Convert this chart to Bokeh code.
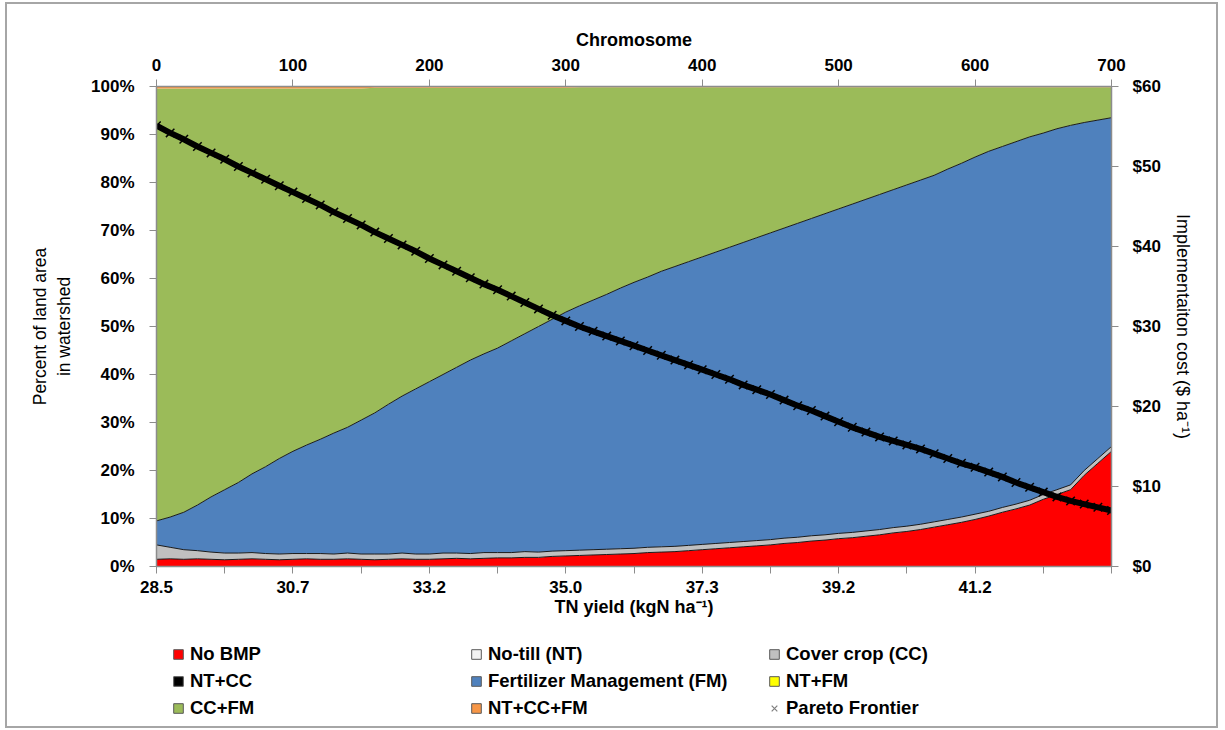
import numpy as np
from bokeh.plotting import figure
from bokeh.layouts import column
from bokeh.models import (LinearAxis, Range1d, FixedTicker, PrintfTickFormatter,
                          Legend, LegendItem, ColumnDataSource)
from bokeh.embed import file_html
from bokeh.resources import INLINE

# ---------------- data (every 10th chromosome) ----------------
chromosome = list(range(0, 701, 10))
tn_tick_chromosome = [0, 100, 200, 300, 400, 500, 600]
tn_tick_labels = ["28.5", "30.7", "33.2", "35.0", "37.3", "39.2", "41.2"]

# percent of land area in watershed
no_bmp = [1.5, 1.6, 1.5, 1.6, 1.5, 1.4, 1.5, 1.6, 1.5, 1.4,
          1.5, 1.6, 1.5, 1.5, 1.6, 1.5, 1.4, 1.5, 1.6, 1.5,
          1.5, 1.6, 1.7, 1.6, 1.7, 1.8, 1.8, 1.9, 1.9, 2.1,
          2.2, 2.3, 2.4, 2.5, 2.6, 2.7, 2.9, 3.0, 3.1, 3.3,
          3.5, 3.7, 3.9, 4.1, 4.3, 4.5, 4.8, 5.0, 5.3, 5.5,
          5.8, 6.0, 6.3, 6.6, 7.0, 7.3, 7.7, 8.2, 8.7, 9.2,
          9.8, 10.5, 11.3, 12.0, 12.8, 14.0, 15.0, 16.0, 19.0, 21.5,
          24.0]
no_till = [0.0] * 71
cover_crop = [3.0, 2.4, 2.0, 1.7, 1.5, 1.4, 1.3, 1.3, 1.2, 1.2,
              1.2, 1.1, 1.2, 1.1, 1.2, 1.1, 1.2, 1.1, 1.2, 1.1,
              1.1, 1.2, 1.1, 1.1, 1.2, 1.1, 1.1, 1.2, 1.1, 1.1,
              1.1, 1.1, 1.1, 1.1, 1.1, 1.1, 1.1, 1.1, 1.1, 1.1,
              1.1, 1.1, 1.1, 1.1, 1.1, 1.1, 1.1, 1.1, 1.1, 1.1,
              1.1, 1.1, 1.1, 1.1, 1.1, 1.1, 1.1, 1.1, 1.1, 1.1,
              1.1, 1.0, 1.0, 1.0, 1.0, 1.0, 1.0, 1.0, 1.0, 1.0,
              1.0]
nt_cc = [0.0] * 71
fert_mgmt = [5.0, 6.3, 7.8, 9.5, 11.5, 13.2, 14.7, 16.4, 18.1, 19.9,
             21.3, 22.6, 23.8, 25.2, 26.2, 27.9, 29.4, 31.2, 32.7, 34.4,
             35.9, 37.2, 38.7, 40.3, 41.4, 42.6, 44.1, 45.4, 47.0, 48.3,
             49.7, 50.9, 52.0, 53.1, 54.3, 55.4, 56.3, 57.4, 58.3, 59.1,
             59.9, 60.7, 61.5, 62.3, 63.1, 63.9, 64.6, 65.4, 66.1, 66.9,
             67.6, 68.4, 69.1, 69.8, 70.4, 71.1, 71.7, 72.2, 73.0, 73.7,
             74.4, 75.0, 75.2, 75.5, 75.7, 75.3, 75.2, 74.9, 72.5, 70.5,
             68.5]
nt_fm = [0.0] * 71
nt_cc_fm = [0.4] * 16 + [0.25] * 15 + [0.15] * 40
# CC+FM is the remainder of the watershed
cc_fm = [round(100 - a - b - c - d - e - f - g, 2) for a, b, c, d, e, f, g in
         zip(no_bmp, no_till, cover_crop, nt_cc, fert_mgmt, nt_fm, nt_cc_fm)]

# implementation cost ($/ha) of the Pareto frontier
pareto_cost = [55.1, 54.2, 53.4, 52.5, 51.7, 50.9, 50.0, 49.2, 48.4, 47.6,
               46.8, 46.0, 45.2, 44.3, 43.5, 42.7, 41.8, 41.0, 40.2, 39.4,
               38.5, 37.7, 36.9, 36.1, 35.3, 34.6, 33.8, 33.0, 32.2, 31.4,
               30.7, 30.0, 29.4, 28.8, 28.2, 27.6, 27.0, 26.4, 25.8, 25.2,
               24.6, 24.0, 23.4, 22.7, 22.1, 21.5, 20.8, 20.1, 19.5, 18.8,
               18.1, 17.4, 16.8, 16.2, 15.7, 15.2, 14.7, 14.1, 13.5, 12.9,
               12.4, 11.8, 11.2, 10.5, 9.9, 9.3, 8.7, 8.2, 7.8, 7.4,
               7.0]

series_names = ["No BMP", "No-till (NT)", "Cover crop (CC)", "NT+CC",
                "Fertilizer Management (FM)", "NT+FM", "CC+FM", "NT+CC+FM"]
series_colors = ["#FF0000", "#F2F2F2", "#C0C0C0", "#000000",
                 "#4F81BD", "#FFFF00", "#9BBB59", "#F79646"]
series_values = [no_bmp, no_till, cover_crop, nt_cc, fert_mgmt, nt_fm, cc_fm, nt_cc_fm]

FONT = "Liberation Sans"
W = 1209          # inner width (inside the grey outer frame)
OFF_X, OFF_Y = 7, 4
H1 = 621
FRAME_LEFT = 156 - OFF_X

p = figure(width=W, height=H1, output_backend="svg", toolbar_location=None,
           x_range=Range1d(0, 700), y_range=Range1d(0, 100),
           min_border_left=FRAME_LEFT, min_border_right=W - (1111 - OFF_X),
           min_border_top=86 - OFF_Y, min_border_bottom=H1 - (566 - OFF_Y),
           background_fill_color="white", border_fill_color="white",
           x_axis_location=None, y_axis_location=None)
p.grid.visible = False
p.outline_line_color = "#8C8C8C"
p.extra_y_ranges = {"cost": Range1d(0, 60)}

# ---------------- stacked areas ----------------
src = ColumnDataSource({"chromosome": chromosome})
lower = np.zeros(len(chromosome))
for name, color, vals in zip(series_names, series_colors, series_values):
    upper = lower + np.array(vals, dtype=float)
    if np.any(upper - lower > 0):
        src.data[name + "_lo"] = lower.copy()
        src.data[name + "_hi"] = upper.copy()
        p.varea(x="chromosome", y1=name + "_lo", y2=name + "_hi", source=src,
                fill_color=color)
    lower = upper
# black outlines of the area boundaries
lower = np.zeros(len(chromosome))
for name, vals in zip(series_names, series_values):
    upper = lower + np.array(vals, dtype=float)
    if np.any(upper - lower > 0) and name not in ("NT+CC+FM", "CC+FM"):
        p.line(x=chromosome, y=list(upper), line_color="#1a1a1a", line_width=1)
    lower = upper

# ---------------- Pareto frontier ----------------
p.line(x=chromosome, y=pareto_cost, y_range_name="cost", line_color="black",
       line_width=6)
p.scatter(x=chromosome, y=pareto_cost, y_range_name="cost", marker="x",
          size=12, line_color="black", line_width=1.5)

# ---------------- axes ----------------
def style_axis(ax, size="17px"):
    ax.axis_line_color = "#8C8C8C"
    ax.axis_line_width = 1.5
    ax.major_tick_line_color = "#8C8C8C"
    ax.major_tick_out = 7
    ax.major_tick_in = 0
    ax.minor_tick_line_color = None
    ax.major_label_text_font = FONT
    ax.major_label_text_font_style = "bold"
    ax.major_label_text_font_size = size
    ax.major_label_text_color = "black"
    ax.axis_label_text_font = FONT
    ax.axis_label_text_color = "black"

bottom = LinearAxis(ticker=FixedTicker(ticks=list(range(0, 701, 50))),
                    axis_label="TN yield (kgN ha\u207b\u00b9)")
style_axis(bottom)
overrides = {t: "" for t in range(0, 701, 50)}
for t, lab in zip(tn_tick_chromosome, tn_tick_labels):
    overrides[t] = lab
bottom.major_label_overrides = overrides
bottom.major_label_standoff = 7
bottom.axis_label_standoff = 1
bottom.axis_label_text_font_style = "bold"
bottom.axis_label_text_font_size = "18px"
p.add_layout(bottom, "below")

top = LinearAxis(ticker=FixedTicker(ticks=list(range(0, 701, 100))),
                 axis_label="Chromosome")
style_axis(top)
top.major_label_standoff = 9
top.axis_label_standoff = 6
top.axis_label_text_font_style = "bold"
top.axis_label_text_font_size = "18px"
p.add_layout(top, "above")

left = LinearAxis(ticker=FixedTicker(ticks=list(range(0, 101, 10))),
                  formatter=PrintfTickFormatter(format="%d%%"),
                  axis_label="Percent of land area\nin watershed")
style_axis(left)
left.major_label_standoff = 15
left.axis_label_standoff = 14
left.axis_label_text_font_style = "normal"
left.axis_label_text_font_size = "17.5px"
p.add_layout(left, "left")

right = LinearAxis(y_range_name="cost", ticker=FixedTicker(ticks=list(range(0, 61, 10))),
                   formatter=PrintfTickFormatter(format="$%d"),
                   axis_label="Implementaiton cost ($ ha\u207b\u00b9)")
style_axis(right)
right.major_label_standoff = 14
right.axis_label_standoff = 9
right.axis_label_text_font_style = "normal"
right.axis_label_text_font_size = "18px"
p.add_layout(right, "right")

# ---------------- legend (own strip under the chart) ----------------
LH = 101
pl = figure(width=W, height=LH, output_backend="svg", toolbar_location=None,
            x_range=Range1d(0, 1), y_range=Range1d(0, 1), min_border=0,
            x_axis_location=None, y_axis_location=None,
            background_fill_color="white", border_fill_color="white")
pl.grid.visible = False
pl.outline_line_color = None

nan = float("nan")
legend_renderers = []
for name, color in zip(series_names, series_colors):
    r = pl.quad(left=[nan], right=[nan], top=[nan], bottom=[nan], fill_color=color,
                line_color="#595959", line_width=1)
    legend_renderers.append((name, r))
pareto_legend_r = pl.scatter(x=[nan], y=[nan], marker="x", size=10,
                             line_color="#7F7F7F", line_width=1.2)
legend_renderers.append(("Pareto Frontier", pareto_legend_r))

common = dict(label_text_font=FONT, label_text_font_style="bold",
              label_text_font_size="18.5px", label_text_color="black",
              padding=0, margin=0, border_line_color=None, background_fill_alpha=0)
# legend x positions relative to the (aligned) plot frame's left edge
col_x = [172 - 156, 470 - 156, 768 - 156]
for c in range(3):
    items = [LegendItem(label=legend_renderers[r * 3 + c][0],
                        renderers=[legend_renderers[r * 3 + c][1]]) for r in range(3)]
    if c == 2:
        items = items[:2]
    lg = Legend(items=items, location=(col_x[c], 7 if c < 2 else 34),
                orientation="vertical", glyph_width=12, glyph_height=12,
                label_standoff=6, spacing=5, label_height=19, **common)
    pl.add_layout(lg, "center")

lg_p = Legend(items=[LegendItem(label="Pareto Frontier", renderers=[pareto_legend_r])],
              location=(col_x[2] - 4, 7), glyph_width=20, glyph_height=20,
              label_standoff=2, label_height=19, **common)
pl.add_layout(lg_p, "center")

layout = column(p, pl, spacing=0,
                styles={"border": "2px solid #A6A6A6", "margin-left": "5px",
                        "margin-top": "2px", "box-sizing": "content-box",
                        "width": f"{W}px", "height": f"{H1 + LH}px",
                        "background": "white"})

open("out.html", "w").write(file_html(layout, INLINE))
